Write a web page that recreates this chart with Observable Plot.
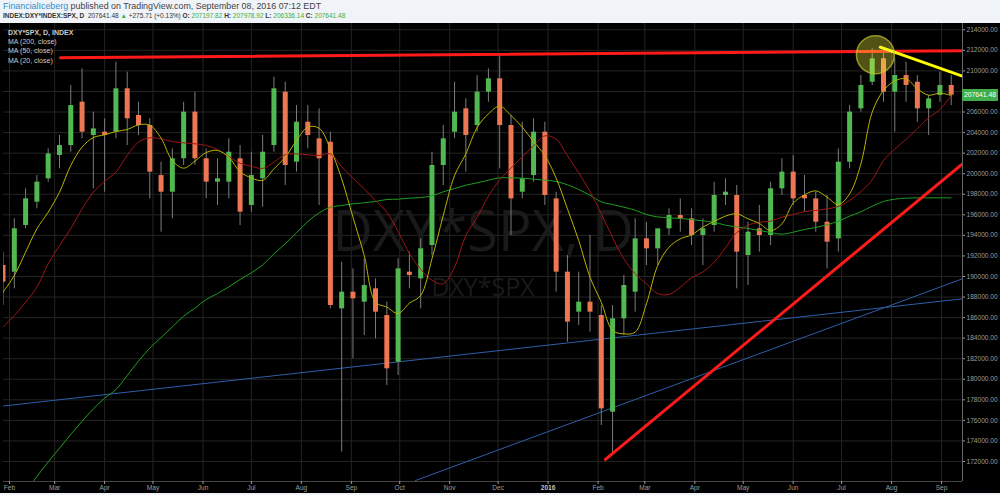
<!DOCTYPE html>
<html><head><meta charset="utf-8">
<script src="https://cdn.jsdelivr.net/npm/d3@7"></script>
<script src="https://cdn.jsdelivr.net/npm/@observablehq/plot@0.6"></script>
<style>
html,body{margin:0;padding:0;background:#f0f3f7;width:1000px;height:495px;overflow:hidden;font-family:"Liberation Sans",Arial,sans-serif;}
.hdr{position:absolute;left:3px;white-space:nowrap;color:#444;}
#h1{top:1px;font-size:8.9px;}
#h2{top:12px;font-size:6.5px;color:#333;}
#h2 b{font-weight:bold;color:#333}
.g{color:#3cae3c}
#chart{position:absolute;left:0;top:23px;}
.leg{position:absolute;left:8px;font-size:7px;color:#c9c9c9;white-space:nowrap;}
#price{position:absolute;left:962px;top:89px;width:36px;height:12px;background:#3fae49;color:#fff;font-size:6.8px;line-height:12px;text-align:center;}
</style></head><body>
<div class="hdr" id="h1"><span style="color:#2f8fd0">FinancialIceberg</span> published on TradingView.com, September 08, 2016 07:12 EDT</div>
<div class="hdr" id="h2"><b>INDEX:DXY*INDEX:SPX, D</b>&nbsp; 207641.48 <span class="g">▲</span> +275.71 (+0.13%) <b>O:</b> <span class="g">207197.82</span> <b>H:</b> <span class="g">207978.92</span> <b>L:</b> <span class="g">206336.14</span> <b>C:</b> <span class="g">207641.48</span></div>
<div id="chart"></div>
<div class="leg" style="top:29px;font-weight:bold">DXY*SPX, D, INDEX</div>
<div class="leg" style="top:38px">MA (200, close)</div>
<div class="leg" style="top:47px">MA (50, close)</div>
<div class="leg" style="top:57px">MA (20, close)</div>
<div id="price">207641.48</div>
<script>
// weekly candles, first week starts Monday 2015-01-26
const firstMonday = "2015-01-26";
const open = [191070,190420,194960,197230,199500,201770,202740,206960,203720,204040,
204040,208260,205660,204690,199820,198200,201450,205990,201450,199180,
199180,201450,196910,199500,202740,207930,201120,205010,203390,203070,
186850,188470,187500,188800,186200,181660,190420,189770,193010,200800,
204040,206310,204690,207930,209230,204690,198200,199820,204040,197550,
190420,186530,187500,186200,176800,185880,188470,193660,192690,194640,
195930,195610,193990,194960,197880,197880,192040,194640,193990,198530,
200150,197880,197550,195280,193660,201120,206310,208900,211180,207930,
209550,208900,206310,207610,208580];
const high = [192370,195610,198530,199820,202420,203720,208580,210200,205990,205340,
210850,209880,206960,205340,201120,202420,206960,207930,202420,201450,
203390,202740,202090,203720,209390,208900,206630,206630,206310,204040,
191390,190740,191720,189770,187500,191720,192370,193660,202090,204690,
208900,207280,209550,210200,211500,205660,205010,205340,205010,198200,
192040,190420,193990,187180,187180,190100,195610,195280,194310,196580,
197550,196580,195610,199180,199500,198850,195280,196910,199180,201450,
201770,199820,198200,197880,202420,206630,209550,212150,212150,211180,
210850,209550,207610,209880,209550];
const low = [187180,188800,194640,196580,199180,200470,202090,203390,198530,198200,
203390,202740,203720,197550,194310,195610,200800,200800,197550,196910,
197550,194960,196260,196740,202090,198850,200150,202420,196910,186850,
172910,181990,184260,183930,179390,180370,188800,186850,192040,198850,
203390,200150,204040,206960,200470,193990,197550,199180,196910,188470,
183610,185230,184580,175500,172580,184260,186530,191070,191070,193990,
194310,193010,191070,194310,196910,188800,189120,192370,193010,197880,
196910,196260,194310,190740,192370,200470,205990,208580,206960,204040,
206960,205010,203720,206960,206630];
const close = [189450,194640,197550,199180,201930,202740,206630,204040,204360,203720,
208260,205340,204690,200150,198200,201450,205990,201450,199180,199500,
202090,196260,199820,202090,208260,200800,205010,203720,201450,187180,
188470,187830,189120,186530,181020,190740,190100,192690,200800,203390,
205990,203720,207930,209230,204690,197550,199500,204040,197880,190420,
185560,187500,186530,177120,185880,189120,193660,192690,194640,195930,
195610,193990,194640,197880,198200,192370,194310,193990,198530,200150,
197550,197550,195280,193340,201120,205990,208580,211180,207930,209550,
208580,206310,207280,208580,207641.48];
const ma20 = [188470,190100,192370,194640,196260,198200,200800,202580,203520,203780,
204110,204300,204750,204720,203460,201280,200540,201220,202060,202260,
201610,200180,199600,199340,200470,201610,203230,204530,204430,202420,
199500,195770,192040,187500,187020,186400,187400,188150,191720,195930,
199820,201930,204490,205820,206570,205660,204530,203130,201770,199570,
196580,193500,189930,187500,184750,184420,184580,187340,191070,192850,
193660,194050,194800,195350,195870,196100,195610,195160,194470,195120,
197130,197940,198330,197720,197000,198040,200960,205990,208090,209030,
209230,208260,207640,207840,207610];
const ma50 = [185070,186200,187500,188960,191230,193010,194640,196580,198200,199270,
200150,201770,203070,203490,203390,203130,203000,202910,202740,202350,
201670,201020,200730,200510,201120,201840,201930,201840,201770,201930,
200670,199570,198530,197390,196260,194380,192240,190710,189640,189290,
190910,193990,195740,197810,199400,200540,201640,202710,203680,203360,
201740,200080,198270,196100,193790,191720,190260,189290,188340,188250,
188960,189870,190450,191390,192790,194280,194990,195280,195380,195770,
196030,196320,196420,196580,196810,197390,198270,199400,201280,202390,
203330,204400,205440,206250,207610];
const ma200 = [null,167720,169110,170540,171970,173300,174630,175920,177120,178160,
179000,180370,181760,183030,184060,185100,186140,186920,187760,188340,
188990,189710,190360,191130,192200,193180,194250,195350,196190,196740,
196910,197070,197170,197300,197490,197520,197620,197680,197850,198240,
198560,198880,199110,199370,199600,199600,199570,199470,199370,199240,
198920,198460,197910,197260,197000,196740,196450,196030,195800,195710,
195640,195540,195410,195280,194990,194830,194670,194470,194280,194120,
194310,194570,194770,195030,195380,195870,196290,196840,197300,197520,
197620,197650,197650,197650,197650];

// drawn trendlines (date, value)
const resistDates = ["2015-03-04T14:00Z","2016-09-14T00:00Z"], resistValues = [211280,211960];
const yellowDates = ["2016-07-25T00:00Z","2016-09-14T00:00Z"], yellowValues = [212310,209490];
const supportDates = ["2016-02-05T14:00Z","2016-09-14T00:00Z"], supportValues = [172200,200960];
const blue1Dates = ["2015-01-28T07:00Z","2016-09-14T00:00Z"], blue1Values = [177400,187830];
const blue2Dates = ["2015-10-10T19:00Z","2016-09-14T00:00Z"], blue2Values = [170150,189775];
const circleDate = "2016-07-22T00:00Z", circleValue = 211570;

const yTicks = d3.range(172000, 214001, 2000);
const hiddenTick = 208000; // covered by the last-price label
const monthTicks = d3.utcMonth.range(new Date("2015-02-01"), new Date("2016-09-02"));
const xDomain = [new Date("2015-01-28T07:00Z"), new Date("2016-09-14T00:00Z")];
const yDomain = [170054, 214613];

const dates = open.map((_, i) => d3.utcDay.offset(new Date(firstMonday), 7 * i + 2));
const candles = dates.map((d, i) => ({date: d, open: open[i], high: high[i], low: low[i], close: close[i],
  ma20: ma20[i], ma50: ma50[i], ma200: ma200[i]}));
const seg = (ds, vs) => ds.map((d, i) => ({date: new Date(d), v: vs[i]}));

const fmtMonth = d3.utcFormat("%b");
const chart = Plot.plot({
  width: 1000, height: 470,
  marginLeft: 3, marginRight: 38, marginTop: 0, marginBottom: 12,
  style: {background: "#000", color: "#9c9c9c", fontFamily: "Liberation Sans, Arial, sans-serif", fontSize: "6.6px"},
  x: {type: "utc", domain: xDomain},
  y: {domain: yDomain},
  marks: [
    Plot.ruleY(yTicks, {stroke: "#242424"}),
    Plot.ruleX(monthTicks, {stroke: "#242424"}),
    Plot.text(["DXY*SPX, D"], {frameAnchor: "middle", text: d => d, fontSize: 56, fill: "#1a1a1a", dy: -19, fontFamily: "Open Sans"}),
    Plot.text(["DXY*SPX"], {frameAnchor: "middle", text: d => d, fontSize: 25, fill: "#1a1a1a", dy: 35, fontFamily: "Open Sans"}),
    Plot.line(seg(blue1Dates, blue1Values), {x: "date", y: "v", stroke: "#2e5ea8", strokeWidth: 1, clip: true}),
    Plot.line(seg(blue2Dates, blue2Values), {x: "date", y: "v", stroke: "#2e5ea8", strokeWidth: 1, clip: true}),
    Plot.ruleX(candles, {x: "date", y1: "low", y2: "high", stroke: "#7c7c7c", strokeWidth: 1, clip: true}),
    Plot.ruleX(candles, {x: "date", y1: "open", y2: "close", stroke: d => d.close >= d.open ? "#52b952" : "#ee7652", strokeWidth: 5, clip: true}),
    Plot.line(candles, {x: "date", y: "ma200", stroke: "#1f9e1f", strokeWidth: 1, curve: "catmull-rom", clip: true}),
    Plot.line(candles, {x: "date", y: "ma50", stroke: "#a01616", strokeWidth: 1, curve: "catmull-rom", clip: true}),
    Plot.line(candles, {x: "date", y: "ma20", stroke: "#b8b400", strokeWidth: 1, curve: "catmull-rom", clip: true}),
    Plot.line(seg(supportDates, supportValues), {x: "date", y: "v", stroke: "#ff1a1a", strokeWidth: 3, clip: true}),
    Plot.line(seg(resistDates, resistValues), {x: "date", y: "v", stroke: "#ff1a1a", strokeWidth: 3, clip: true}),
    Plot.line(seg(yellowDates, yellowValues), {x: "date", y: "v", stroke: "#ffff00", strokeWidth: 3, clip: true}),
    Plot.dot([{date: new Date(circleDate), v: circleValue}], {x: "date", y: "v", r: 19, fill: "#ffff40", fillOpacity: 0.32, stroke: "#c8c830", strokeOpacity: 0.7}),
    Plot.ruleX([xDomain[1]], {stroke: "#666"}),
    Plot.ruleY([yDomain[0]], {stroke: "#444"}),
    Plot.axisY({anchor: "right", ticks: yTicks.filter(v => v !== hiddenTick), tickFormat: d => d.toFixed(2), tickSize: 2, tickPadding: 2}),
    Plot.axisX({ticks: monthTicks, tickFormat: d => d.getUTCMonth() === 0 ? "" : fmtMonth(d), tickSize: 3, tickPadding: 1}),
    Plot.text(monthTicks.filter(d => d.getUTCMonth() === 0), {x: d => d, frameAnchor: "bottom", dy: 8, text: d => String(d.getUTCFullYear()), fontWeight: "bold", fill: "#c0c0c0"})
  ]
});
document.getElementById("chart").appendChild(chart);
</script>
</body></html>
